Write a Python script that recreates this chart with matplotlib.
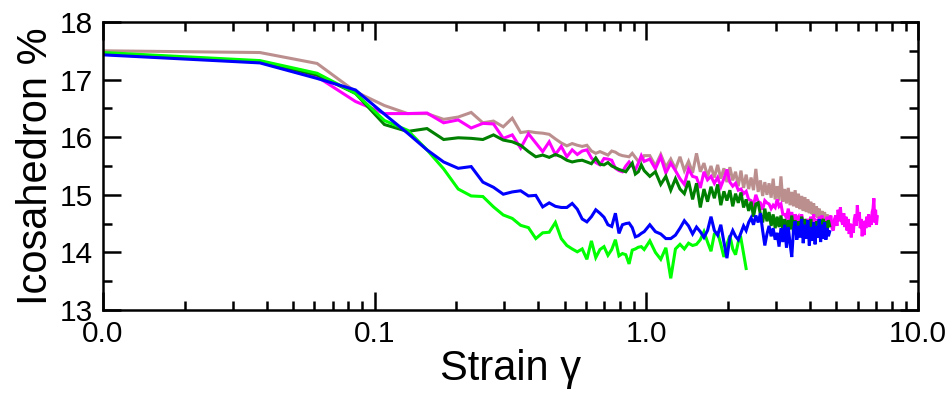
import numpy as np
import matplotlib
matplotlib.use("Agg")
import matplotlib.pyplot as plt
from matplotlib.ticker import LogLocator, MultipleLocator, FuncFormatter, NullFormatter

plt.rcParams['font.family'] = ['Liberation Sans', 'DejaVu Sans']

# ---- strain sampling ----
strain_first = 0.01
strain_fine = np.round(0.0378 + 0.0236 * np.arange(41), 4)      # ~0.038 .. 0.98
strain_tail = np.round(np.arange(1.03, 7.1, 0.05), 2)            # 1.03 .. 7.08

# ---- series values (Icosahedron %) ----
magenta_first = 17.44
magenta_fine = [17.31, 17.05, 16.62, 16.41, 16.41, 16.42, 16.25, 16.30, 16.16, 16.24,
                16.23, 15.98, 16.04, 15.81, 16.06, 15.90, 15.75, 15.92, 15.70, 15.84,
                15.66, 15.78, 15.70, 15.76, 15.78, 15.64, 15.56, 15.52, 15.63, 15.62,
                15.60, 15.46, 15.42, 15.40, 15.50, 15.57, 15.50, 15.43, 15.55, 15.68, 15.58]
magenta_tail = [15.62, 15.45, 15.66, 15.38, 15.55, 15.42, 15.28, 15.18, 15.45, 15.32,
                15.30, 15.12, 15.40, 15.26, 15.32, 15.20, 15.30, 15.14, 15.28, 15.44,
                15.22, 15.15, 15.20, 15.08, 15.10, 15.02, 15.06, 14.92, 14.90, 14.82,
                15.00, 14.88, 14.86, 14.74, 14.90, 14.86, 14.84, 14.76, 14.82, 14.78,
                14.92, 14.80, 14.84, 14.66, 14.66, 14.60, 14.76, 14.56, 14.70, 14.52,
                14.66, 14.58, 14.62, 14.46, 14.66, 14.50, 14.52, 14.56, 14.56, 14.42,
                14.62, 14.46, 14.66, 14.44, 14.58, 14.40, 14.62, 14.46, 14.64, 14.42,
                14.58, 14.44, 14.62, 14.46, 14.60, 14.64, 14.42, 14.38, 14.58, 14.64,
                14.46, 14.74, 14.54, 14.78, 14.56, 14.48, 14.68, 14.44, 14.62, 14.38,
                14.58, 14.32, 14.50, 14.26, 14.48, 14.34, 14.58, 14.66, 14.46, 14.82,
                14.56, 14.70, 14.42, 14.58, 14.28, 14.50, 14.30, 14.55, 14.42, 14.62,
                14.46, 14.66, 14.44, 14.60, 14.48, 14.70, 14.76, 14.94, 14.52, 14.74,
                14.48, 14.62]

brown_first = 17.50
brown_fine = [17.47, 17.28, 16.79, 16.55, 16.41, 16.41, 16.31, 16.35, 16.43, 16.25,
              16.28, 16.18, 16.33, 16.08, 16.10, 16.08, 16.07, 16.05, 15.97, 15.90,
              15.85, 15.89, 15.86, 15.84, 15.86, 15.76, 15.72, 15.75, 15.72, 15.69,
              15.76, 15.74, 15.70, 15.68, 15.67, 15.66, 15.72, 15.65, 15.58, 15.60, 15.68]
brown_tail = [15.68, 15.50, 15.70, 15.48, 15.62, 15.45, 15.66, 15.42, 15.58, 15.38,
              15.72, 15.40, 15.55, 15.32, 15.50, 15.30, 15.52, 15.28, 15.46, 15.22,
              15.48, 15.25, 15.40, 15.15, 15.42, 15.12, 15.35, 15.10, 15.30, 15.08,
              15.45, 15.05, 15.25, 14.98, 15.22, 15.00, 15.20, 14.95, 15.28, 14.92,
              15.15, 14.90, 15.32, 14.88, 15.10, 14.85, 15.12, 14.82, 15.05, 14.80,
              15.08, 14.78, 15.02, 14.75, 14.98, 14.72, 14.96, 14.70, 14.92, 14.68,
              14.88, 14.66, 14.85, 14.62, 14.80, 14.60, 14.76, 14.58, 14.72, 14.55,
              14.70, 14.55, 14.66, 14.52, 14.60]

green_first = 17.45
green_fine = [17.31, 17.08, 16.76, 16.22, 16.10, 16.15, 15.96, 15.99, 15.98, 15.96,
              16.04, 15.95, 15.92, 15.86, 15.75, 15.66, 15.69, 15.65, 15.70, 15.66,
              15.60, 15.57, 15.59, 15.60, 15.57, 15.54, 15.64, 15.53, 15.52, 15.56,
              15.50, 15.47, 15.44, 15.42, 15.40, 15.48, 15.55, 15.36, 15.40, 15.52, 15.42]
green_tail = [15.32, 15.40, 15.18, 15.32, 15.08, 15.28, 15.10, 15.02, 15.24, 14.92,
              15.20, 14.78, 15.10, 14.88, 15.14, 14.94, 15.18, 14.82, 15.06, 14.90,
              15.08, 14.80, 15.02, 14.86, 15.04, 14.78, 14.92, 14.72, 14.88, 14.62,
              14.84, 14.86, 14.66, 14.52, 14.76, 14.54, 14.70, 14.46, 14.66, 14.42,
              14.62, 14.44, 14.64, 14.38, 14.58, 14.34, 14.56, 14.40, 14.64, 14.36,
              14.56, 14.32, 14.54, 14.38, 14.62, 14.40, 14.58, 14.34, 14.54, 14.36,
              14.58, 14.38, 14.52, 14.32, 14.54, 14.36, 14.56, 14.34, 14.52, 14.58,
              14.38, 14.54, 14.40, 14.56, 14.46]

lime_first = 17.47
lime_fine = [17.33, 17.11, 16.76, 16.29, 16.12, 15.78, 15.45, 15.10, 14.98, 14.97,
             14.79, 14.65, 14.59, 14.47, 14.43, 14.24, 14.34, 14.35, 14.52, 14.24,
             14.12, 14.06, 14.01, 14.06, 13.88, 14.20, 13.91, 14.05, 14.10, 13.95,
             14.05, 14.22, 13.94, 13.98, 13.96, 13.80, 14.04, 14.06, 14.09, 14.10, 14.05]
lime_tail = [14.20, 14.00, 13.88, 14.08, 13.55, 14.06, 14.14, 14.06, 14.16, 14.12,
             14.14, 14.22, 14.36, 14.18, 14.02, 14.32, 14.34, 14.14, 13.92, 14.14,
             14.29, 14.06, 13.96, 14.18, 14.24, 13.98, 13.72]

blue_first = 17.43
blue_fine = [17.29, 17.02, 16.82, 16.40, 16.07, 15.78, 15.57, 15.46, 15.49, 15.22,
             15.13, 15.01, 15.05, 15.07, 14.98, 14.99, 14.79, 14.86, 14.80, 14.78,
             14.78, 14.85, 14.75, 14.58, 14.53, 14.62, 14.74, 14.68, 14.61, 14.48,
             14.45, 14.68, 14.33, 14.48, 14.50, 14.51, 14.43, 14.27, 14.29, 14.33, 14.36]
blue_tail = [14.48, 14.36, 14.32, 14.24, 14.24, 14.30, 14.42, 14.55, 14.46, 14.32,
             14.44, 14.36, 14.26, 14.38, 14.62, 14.38, 14.30, 14.48, 14.18, 13.90,
             14.26, 14.38, 14.28, 14.22, 14.34, 14.46, 14.38, 14.52, 14.60, 14.48,
             14.64, 14.52, 14.68, 14.38, 14.12, 14.32, 14.46, 14.28, 14.42, 14.22,
             14.34, 14.10, 14.42, 14.18, 14.48, 14.08, 14.44, 14.16, 13.92, 14.38,
             14.54, 14.22, 14.46, 14.26, 14.58, 14.16, 14.48, 14.24, 14.56, 14.12,
             14.44, 14.20, 14.52, 14.14, 14.46, 14.26, 14.58, 14.18, 14.48, 14.24,
             14.52, 14.22, 14.42, 14.28, 14.36]

series = [
    ("brown", brown_first, brown_fine, brown_tail, "#bc8f8f"),
    ("magenta", magenta_first, magenta_fine, magenta_tail, "#ff00ff"),
    ("green", green_first, green_fine, green_tail, "#008000"),
    ("lime", lime_first, lime_fine, lime_tail, "#00ff00"),
    ("blue", blue_first, blue_fine, blue_tail, "#0000ff"),
]

fig = plt.figure(figsize=(9.53, 3.96), dpi=100)
ax = fig.add_axes([103 / 953, 1 - 310 / 396, (918 - 103) / 953, (310 - 22) / 396])

for name, first, fine, tail, col in series:
    x = np.concatenate([[strain_first], strain_fine[:len(fine)], strain_tail[:len(tail)]])
    y = np.concatenate([[first], fine, tail])
    ax.plot(x, y, color=col, lw=2.2, solid_joinstyle='miter')

ax.set_xscale('log')
ax.set_xlim(0.01, 10)
ax.set_ylim(13, 18)
ax.xaxis.set_major_locator(LogLocator(base=10, numticks=10))
ax.xaxis.set_minor_locator(LogLocator(base=10, subs=np.arange(2, 10), numticks=20))
ax.xaxis.set_major_formatter(FuncFormatter(lambda v, p: f"{v:.1f}"))
ax.xaxis.set_minor_formatter(NullFormatter())
ax.yaxis.set_major_locator(MultipleLocator(1))
ax.yaxis.set_minor_locator(MultipleLocator(0.5))
ax.yaxis.set_major_formatter(FuncFormatter(lambda v, p: f"{v:.0f}"))

for s in ax.spines.values():
    s.set_linewidth(1.8)
ax.tick_params(which='both', direction='in', top=True, right=True, width=1.8, color='black')
ax.tick_params(which='major', length=13, labelsize=21.5, pad=7)
ax.tick_params(which='minor', length=6.5)

ax.set_xlabel('Strain γ', fontsize=30, labelpad=1)
ax.set_ylabel('Icosahedron %', fontsize=30, labelpad=3)

fig.savefig("out.png", dpi=100)
